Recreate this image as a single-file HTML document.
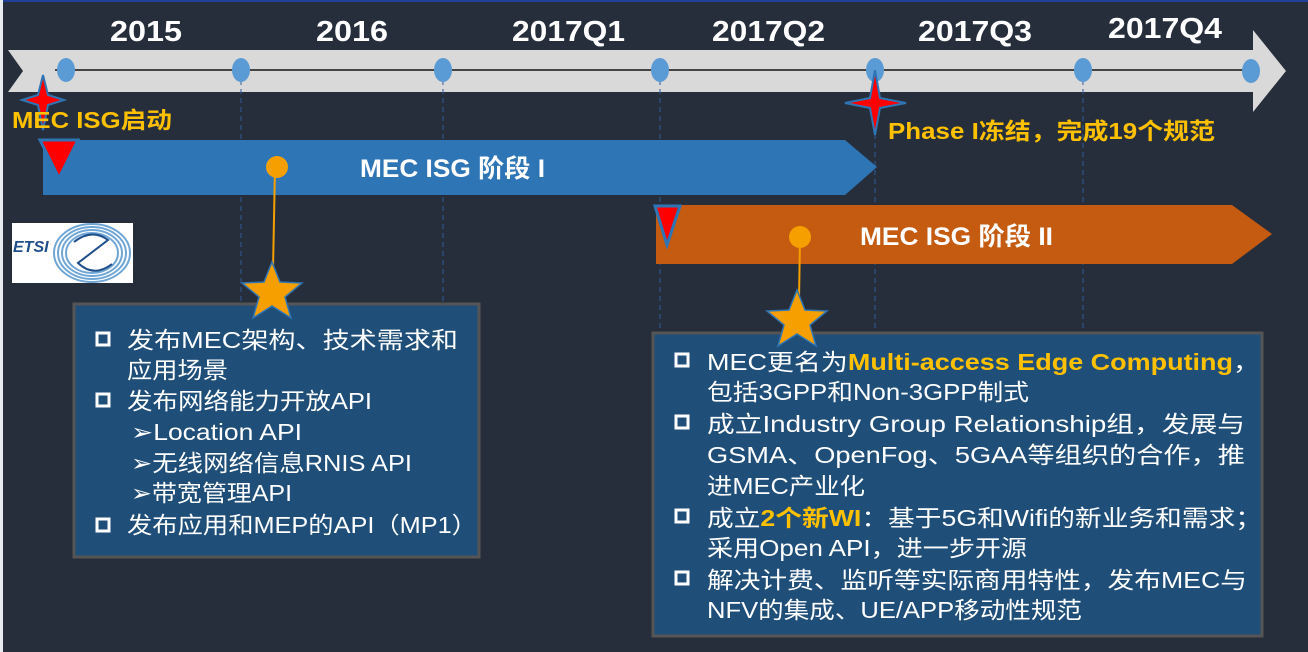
<!DOCTYPE html>
<html><head><meta charset="utf-8"><style>
body{margin:0;width:1308px;height:652px;overflow:hidden;background:#262e3b;}
svg{display:block}
.t{font-family:"Liberation Sans","Noto Sans CJK SC",sans-serif;}
</style></head><body>
<svg width="1308" height="652" xmlns="http://www.w3.org/2000/svg" class="t">
<rect x="0" y="0" width="1308" height="652" fill="#262e3b"/>
<rect x="0" y="0" width="1308" height="2" fill="#1f3f9a"/>
<rect x="0" y="0" width="3" height="652" fill="#e8ecf0"/>
<polygon points="8,50 1253,50 1253,30 1286,71 1253,112 1253,92 8,92 23,71" fill="#d9d9d9"/>
<line x1="55" y1="70" x2="1255" y2="70" stroke="#444" stroke-width="2"/>
<g stroke="#2e5a9a" stroke-width="1" stroke-dasharray="5,4">
<line x1="241" y1="80" x2="241" y2="330"/>
<line x1="443" y1="80" x2="443" y2="330"/>
<line x1="660" y1="80" x2="660" y2="330"/>
<line x1="875" y1="80" x2="875" y2="330"/>
<line x1="1083" y1="80" x2="1083" y2="330"/>
</g>
<g fill="#5b9bd5">
<ellipse cx="66" cy="70" rx="9" ry="12"/>
<ellipse cx="241" cy="70" rx="9" ry="12"/>
<ellipse cx="443" cy="70" rx="9" ry="12"/>
<ellipse cx="660" cy="70" rx="9" ry="12"/>
<ellipse cx="875" cy="70" rx="9" ry="12"/>
<ellipse cx="1083" cy="70" rx="9" ry="12"/>
<ellipse cx="1251" cy="71" rx="9" ry="12"/>
</g>
<g fill="#fff" font-weight="bold" font-size="29">
<text x="110" y="41" textLength="72" lengthAdjust="spacingAndGlyphs">2015</text>
<text x="316" y="41" textLength="72" lengthAdjust="spacingAndGlyphs">2016</text>
<text x="512" y="41" textLength="113" lengthAdjust="spacingAndGlyphs">2017Q1</text>
<text x="712" y="41" textLength="113" lengthAdjust="spacingAndGlyphs">2017Q2</text>
<text x="918" y="41" textLength="114" lengthAdjust="spacingAndGlyphs">2017Q3</text>
<text x="1108" y="38" textLength="114" lengthAdjust="spacingAndGlyphs">2017Q4</text>
</g>
<polygon points="43,140 845,140 877,167 845,195 43,195" fill="#2e75b6"/>
<text x="360" y="177" fill="#fff" font-weight="bold" font-size="25" textLength="185" lengthAdjust="spacingAndGlyphs">MEC ISG 阶段 I</text>
<polygon points="40,140 78,140 59,178" fill="#ff0000" stroke="#2e75b6" stroke-width="3"/>
<polygon points="656,205 1232,205 1272,234 1232,264 656,264" fill="#c55a11"/>
<text x="860" y="245" fill="#fff" font-weight="bold" font-size="25" textLength="193" lengthAdjust="spacingAndGlyphs">MEC ISG 阶段 II</text>
<polygon points="655,206 680,206 667,245" fill="#ff0000" stroke="#2e75b6" stroke-width="3"/>
<polygon points="43,75 48,95 64,100 48,105 43,130 38,105 22,100 38,95" fill="#ff0000" stroke="#2e75b6" stroke-width="2"/>
<polygon points="875,70 880,98 906,103 880,108 875,135 870,108 845,103 870,98" fill="#ff0000" stroke="#2e75b6" stroke-width="2"/>
<text x="12" y="128" fill="#ffc000" font-weight="bold" font-size="23" textLength="160" lengthAdjust="spacingAndGlyphs">MEC ISG启动</text>
<text x="888" y="139" fill="#ffc000" font-weight="bold" font-size="23" textLength="327" lengthAdjust="spacingAndGlyphs">Phase I冻结，完成19个规范</text>
<rect x="12" y="223" width="121" height="60" fill="#fff"/>
<text x="13" y="252" fill="#1f4e8c" font-weight="bold" font-style="italic" font-size="16">ETSI</text>
<g fill="none" stroke="#6fa6d6" stroke-width="2">
<ellipse cx="92" cy="253" rx="38" ry="29"/>
<ellipse cx="92" cy="253" rx="34" ry="26"/>
<ellipse cx="92" cy="253" rx="30" ry="23"/>
<ellipse cx="92" cy="253" rx="26" ry="20"/>
<path d="M74,242 Q92,228 108,240 L78,263 Q94,278 112,264" stroke="#1f4e8c" stroke-width="2"/>
</g>
<line x1="275" y1="167" x2="273" y2="270" stroke="#f5a000" stroke-width="2"/>
<circle cx="277" cy="167" r="11" fill="#f5a000"/>
<line x1="800" y1="237" x2="799" y2="300" stroke="#f5a000" stroke-width="2"/>
<circle cx="800" cy="237" r="11" fill="#f5a000"/>
<rect x="74" y="304" width="405" height="253" fill="#1f4e79" stroke="#555" stroke-width="3"/>
<rect x="653" y="333" width="609" height="303" fill="#1f4e79" stroke="#555" stroke-width="3"/>
<polygon points="272,262 280,282 302,283 285,297 291,318 272,306 253,318 259,297 242,283 264,282" fill="#f5a000" stroke="#2e75b6" stroke-width="1.5"/>
<polygon points="797,290 805,310 827,311 810,325 816,346 797,334 778,346 784,325 767,311 789,310" fill="#f5a000" stroke="#2e75b6" stroke-width="1.5"/>
<g fill="#fff" font-size="23">
<g fill="none" stroke="#fff" stroke-width="3">
<rect x="97" y="333" width="12" height="12"/>
<rect x="97" y="394" width="12" height="12"/>
<rect x="97" y="519" width="12" height="12"/>
</g>
<text x="127" y="348" textLength="331" lengthAdjust="spacingAndGlyphs">发布MEC架构、技术需求和</text>
<text x="127" y="378" textLength="101" lengthAdjust="spacingAndGlyphs">应用场景</text>
<text x="127" y="409" textLength="245" lengthAdjust="spacingAndGlyphs">发布网络能力开放API</text>
<text x="131" y="440" textLength="171" lengthAdjust="spacingAndGlyphs">➢Location API</text>
<text x="131" y="471" textLength="281" lengthAdjust="spacingAndGlyphs">➢无线网络信息RNIS API</text>
<text x="131" y="501" textLength="161" lengthAdjust="spacingAndGlyphs">➢带宽管理API</text>
<text x="127" y="533" textLength="350" lengthAdjust="spacingAndGlyphs">发布应用和MEP的API（MP1）</text>
</g>
<g fill="#fff" font-size="23">
<g fill="none" stroke="#fff" stroke-width="3">
<rect x="676" y="354" width="12" height="12"/>
<rect x="676" y="416" width="12" height="12"/>
<rect x="676" y="510" width="12" height="12"/>
<rect x="676" y="572" width="12" height="12"/>
</g>
<text x="707" y="370" textLength="553" lengthAdjust="spacingAndGlyphs">MEC更名为<tspan fill="#ffc000" font-weight="bold">Multi-access  Edge  Computing</tspan>，</text>
<text x="707" y="400" textLength="322" lengthAdjust="spacingAndGlyphs">包括3GPP和Non-3GPP制式</text>
<text x="707" y="432" textLength="538" lengthAdjust="spacingAndGlyphs">成立Industry  Group  Relationship组，发展与</text>
<text x="707" y="463" textLength="538" lengthAdjust="spacingAndGlyphs">GSMA、OpenFog、5GAA等组织的合作，推</text>
<text x="707" y="494" textLength="158" lengthAdjust="spacingAndGlyphs">进MEC产业化</text>
<text x="707" y="526" textLength="555" lengthAdjust="spacingAndGlyphs">成立<tspan fill="#ffc000" font-weight="bold">2个新WI</tspan>：基于5G和Wifi的新业务和需求；</text>
<text x="707" y="556" textLength="320" lengthAdjust="spacingAndGlyphs">采用Open API，进一步开源</text>
<text x="707" y="588" textLength="540" lengthAdjust="spacingAndGlyphs">解决计费、监听等实际商用特性，发布MEC与</text>
<text x="707" y="618" textLength="375" lengthAdjust="spacingAndGlyphs">NFV的集成、UE/APP移动性规范</text>
</g>
</svg>
</body></html>
